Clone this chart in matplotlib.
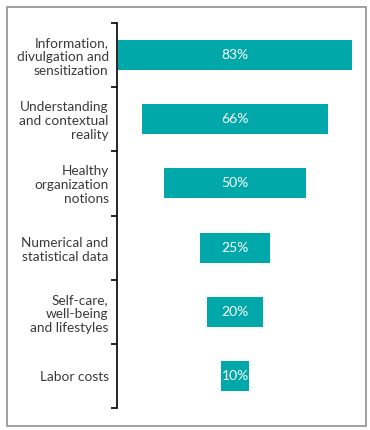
import matplotlib.pyplot as plt
from matplotlib.patches import Rectangle

categories = ["Information,\ndivulgation and\nsensitization",
              "Understanding\nand contextual\nreality",
              "Healthy\norganization\nnotions",
              "Numerical and\nstatistical data",
              "Self-care,\nwell-being\nand lifestyles",
              "Labor costs"]
values = [83, 66, 50, 25, 20, 10]

teal = '#00A8AA'
plt.rcParams['font.family'] = ['Lato', 'DejaVu Sans']

fig = plt.figure(figsize=(3.7, 4.3), dpi=100)
ax = fig.add_axes([117/370, 1 - 408/430, 236/370, (408 - 23)/430])

ypos = list(range(len(values)))
lefts = [-v / 2 for v in values]
ax.barh(ypos, values, left=lefts, height=0.47, color=teal)
for y, v in zip(ypos, values):
    ax.text(0, y, f"{v}%", color='white', ha='center', va='center', fontsize=10)

ax.set_xlim(-41.7, 41.7)
ax.set_ylim(len(values) - 0.5, -0.5)
ax.set_xticks([])
ax.set_yticks(ypos)
ax.set_yticklabels(categories, fontsize=9.8, color='#3a3a3a', linespacing=1.2)
ax.set_yticks([i - 0.5 for i in range(len(values) + 1)], minor=True)
ax.tick_params(axis='y', which='major', length=0, pad=6)
ax.tick_params(axis='y', which='minor', length=4, width=1.2, direction='out', color='black')
for s in ['top', 'right', 'bottom']:
    ax.spines[s].set_visible(False)
ax.spines['left'].set_linewidth(1.2)
ax.patch.set_visible(False)

fig.patches.append(Rectangle((7/370, 1 - 426/430), 359/370, 419/430,
                             transform=fig.transFigure, fill=False,
                             edgecolor='#999999', linewidth=1.3))

fig.savefig('out.png', dpi=100)
